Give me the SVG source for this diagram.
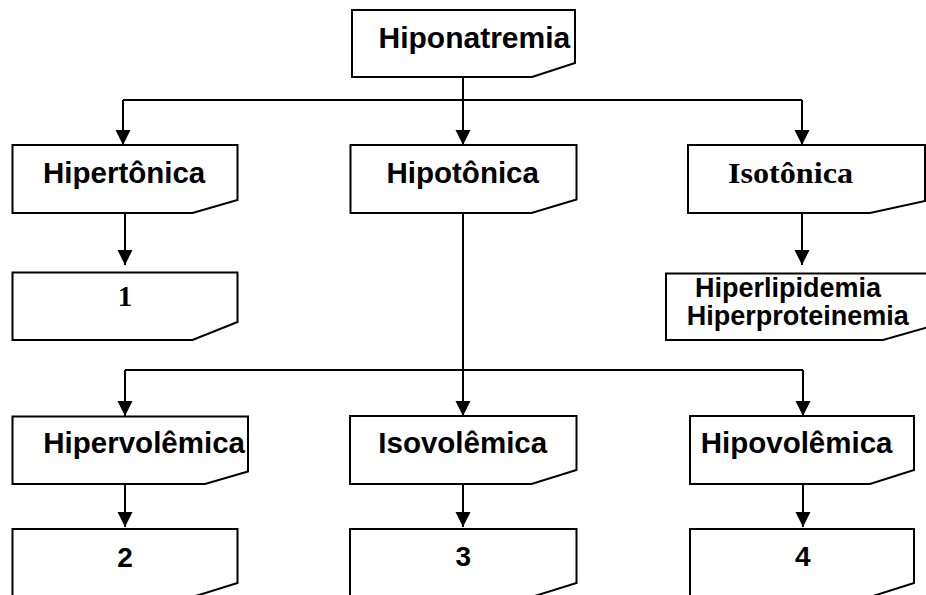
<svg xmlns="http://www.w3.org/2000/svg" width="926" height="595" viewBox="0 0 926 595">
<style>
.box{fill:#fff;stroke:#000;stroke-width:2}
.t{font-family:"Liberation Sans",Arial,sans-serif;font-weight:bold;font-size:29.5px;fill:#000}
.s{font-family:"Liberation Serif","Times New Roman",serif;font-weight:bold;fill:#000}
.c{fill:none;stroke:#000;stroke-width:2}
</style>
<defs>
<marker id="ah" markerUnits="userSpaceOnUse" markerWidth="16" markerHeight="16" viewBox="0 0 16 16" refX="15" refY="8" orient="auto">
<path d="M0,0.5 L15,8 L0,15.5 Z" fill="#000"/>
</marker>
</defs>
<rect width="926" height="595" fill="#fff"/>
<g id="connectors">
<path class="c" d="M463,77 V100"/>
<path class="c" d="M123,100 H802"/>
<path class="c" d="M123,100 V145" marker-end="url(#ah)"/>
<path class="c" d="M463,100 V145" marker-end="url(#ah)"/>
<path class="c" d="M802,100 V145" marker-end="url(#ah)"/>
<path class="c" d="M125,213 V265" marker-end="url(#ah)"/>
<path class="c" d="M802,213 V265" marker-end="url(#ah)"/>
<path class="c" d="M463,213 V370"/>
<path class="c" d="M125,370 H803"/>
<path class="c" d="M125,370 V416" marker-end="url(#ah)"/>
<path class="c" d="M463,370 V416" marker-end="url(#ah)"/>
<path class="c" d="M803,370 V416" marker-end="url(#ah)"/>
<path class="c" d="M125,484 V527" marker-end="url(#ah)"/>
<path class="c" d="M463,484 V527" marker-end="url(#ah)"/>
<path class="c" d="M803,484 V527" marker-end="url(#ah)"/>
</g>
<g id="hiponatremia">
<path class="box" d="M352,10 H575 V63 L532,77 H352 Z"/>
<text class="t" x="378.5" y="48.3" style="font-size:30px">Hiponatremia</text>
</g>
<g id="hipertonica">
<path class="box" d="M12.5,145 H237.5 V200 L192.5,213 H12.5 Z"/>
<text class="t" x="43" y="183">Hipertônica</text>
</g>
<g id="hipotonica">
<path class="box" d="M350.5,145 H576.5 V199.5 L531.5,213 H350.5 Z"/>
<text class="t" x="386.5" y="182.7">Hipotônica</text>
</g>
<g id="isotonica">
<path class="box" d="M688,145 H925 V201 L870,213 H688 Z"/>
<text class="s" x="728" y="183.3" font-size="30" textLength="125" lengthAdjust="spacingAndGlyphs">Isotônica</text>
</g>
<g id="n1">
<path class="box" d="M12.5,272.5 H237.5 V322 L192.5,340 H12.5 Z"/>
<text class="s" x="125" y="305.7" font-size="29" text-anchor="middle">1</text>
</g>
<g id="hiperlipidemia">
<path class="box" d="M666,273.5 H932 V326 L883,340 H666 Z"/>
<text class="t" x="695" y="296.7" style="font-size:27px">Hiperlipidemia</text>
<text class="t" x="686.7" y="325" style="font-size:27px">Hiperproteinemia</text>
</g>
<g id="hipervolemica">
<path class="box" d="M12.5,416.5 H248 V471.5 L205,484 H12.5 Z"/>
<text class="t" x="43.3" y="452.7">Hipervolêmica</text>
</g>
<g id="isovolemica">
<path class="box" d="M350,416 H576.5 V470 L531.5,484 H350 Z"/>
<text class="t" x="378.3" y="453.3">Isovolêmica</text>
</g>
<g id="hipovolemica">
<path class="box" d="M690,416 H914 V470 L870,484 H690 Z"/>
<text class="t" x="700.7" y="453.3">Hipovolêmica</text>
</g>
<g id="n2">
<path class="box" d="M12.5,529 H237.5 V583 L192.5,597 H12.5 Z"/>
<text class="t" x="125" y="566.7" text-anchor="middle" style="font-size:28px">2</text>
</g>
<g id="n3">
<path class="box" d="M350,529 H576.5 V583 L531.5,597 H350 Z"/>
<text class="t" x="463.3" y="565.5" text-anchor="middle" style="font-size:28px">3</text>
</g>
<g id="n4">
<path class="box" d="M690,529 H914 V583 L870,597 H690 Z"/>
<text class="t" x="802.7" y="565.5" text-anchor="middle" style="font-size:28px">4</text>
</g>
</svg>
